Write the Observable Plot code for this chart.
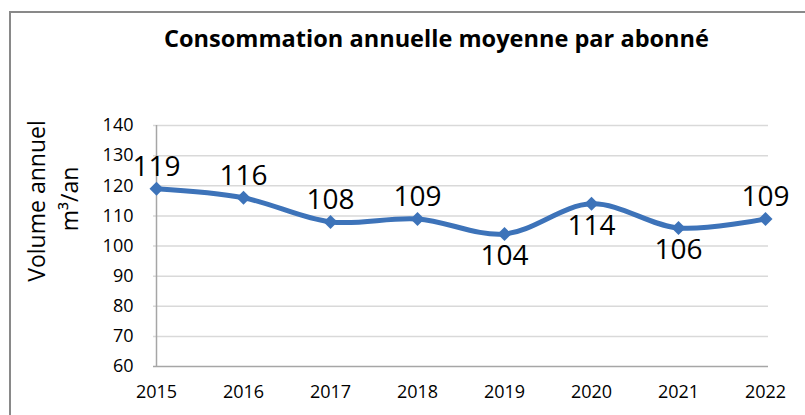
<!DOCTYPE html>
<html><head><meta charset="utf-8">
<script src="https://cdn.jsdelivr.net/npm/d3@7"></script>
<script src="https://cdn.jsdelivr.net/npm/@observablehq/plot@0.6"></script>
<style>
body{margin:0;background:#fff;}
#wrap{position:relative;width:805px;height:415px;overflow:hidden;background:#fff;}
#frame{position:absolute;left:9px;top:11px;width:900px;height:500px;border-left:2px solid #898989;border-top:2px solid #898989;pointer-events:none;}
</style></head><body>
<div id="wrap"><div id="chart"></div><div id="frame"></div></div>
<script>
const years = [2015, 2016, 2017, 2018, 2019, 2020, 2021, 2022];
const values = [119, 116, 108, 109, 104, 114, 106, 109];
const placement = ["above", "above", "above", "above", "below", "below", "below", "above"];
const yTicks = [60, 70, 80, 90, 100, 110, 120, 130, 140];
const title = "Consommation annuelle moyenne par abonné";
const yLabel1 = "Volume annuel";
const yLabel2 = "m³/an";

const data = years.map((year, i) => ({year, value: values[i], placement: placement[i]}));
const font = "'Open Sans', sans-serif";
const blue = "#3d73b9";

const chart = Plot.plot({
  width: 805, height: 415,
  marginLeft: 153, marginRight: 37, marginTop: 125, marginBottom: 49,
  style: {fontFamily: font, background: "transparent", color: "#000"},
  x: {type: "point", domain: years, padding: 0, label: null},
  y: {domain: [60, 140], ticks: yTicks, label: null},
  marks: [
    Plot.ruleY(yTicks.slice(1), {stroke: "#d9d9d9", strokeWidth: 1.5}),
    Plot.ruleY([yTicks[0]], {stroke: "#a6a6a6", strokeWidth: 1.5}),
    Plot.ruleX([years[0]], {stroke: "#a6a6a6", strokeWidth: 1.5}),
    Plot.axisY({ticks: yTicks, tickSize: 0, tickPadding: 20, fontSize: 18, label: null}),
    Plot.axisX({tickSize: 0, tickPadding: 19, fontSize: 18, label: null, tickFormat: d => String(d)}),
    Plot.line(data, {x: "year", y: "value", curve: "catmull-rom", stroke: blue, strokeWidth: 5}),
    Plot.dot(data, {x: "year", y: "value", symbol: "diamond2", r: 6.3, fill: blue, stroke: "none"}),
    Plot.text(data.filter(d => d.placement === "above"), {x: "year", y: "value", text: d => String(d.value), dy: -22, fontSize: 28, fill: "#000"}),
    Plot.text(data.filter(d => d.placement === "below"), {x: "year", y: "value", text: d => String(d.value), dy: 22, fontSize: 28, fill: "#000"})
  ]
});

document.getElementById("chart").appendChild(chart);
const svg = d3.select(chart);
svg.append("text")
  .attr("x", 436.5).attr("y", 47)
  .attr("text-anchor", "middle")
  .attr("font-family", font).attr("font-weight", "bold").attr("font-size", 23.5)
  .attr("textLength", 545).attr("lengthAdjust", "spacingAndGlyphs")
  .attr("fill", "#000")
  .text(title);
svg.append("text")
  .attr("transform", "translate(45,201) rotate(-90)")
  .attr("text-anchor", "middle")
  .attr("font-family", font).attr("font-size", 23).attr("fill", "#000")
  .text(yLabel1);
svg.append("text")
  .attr("transform", "translate(78,199) rotate(-90)")
  .attr("text-anchor", "middle")
  .attr("font-family", font).attr("font-size", 23).attr("fill", "#000")
  .text(yLabel2);
</script>
</body></html>
